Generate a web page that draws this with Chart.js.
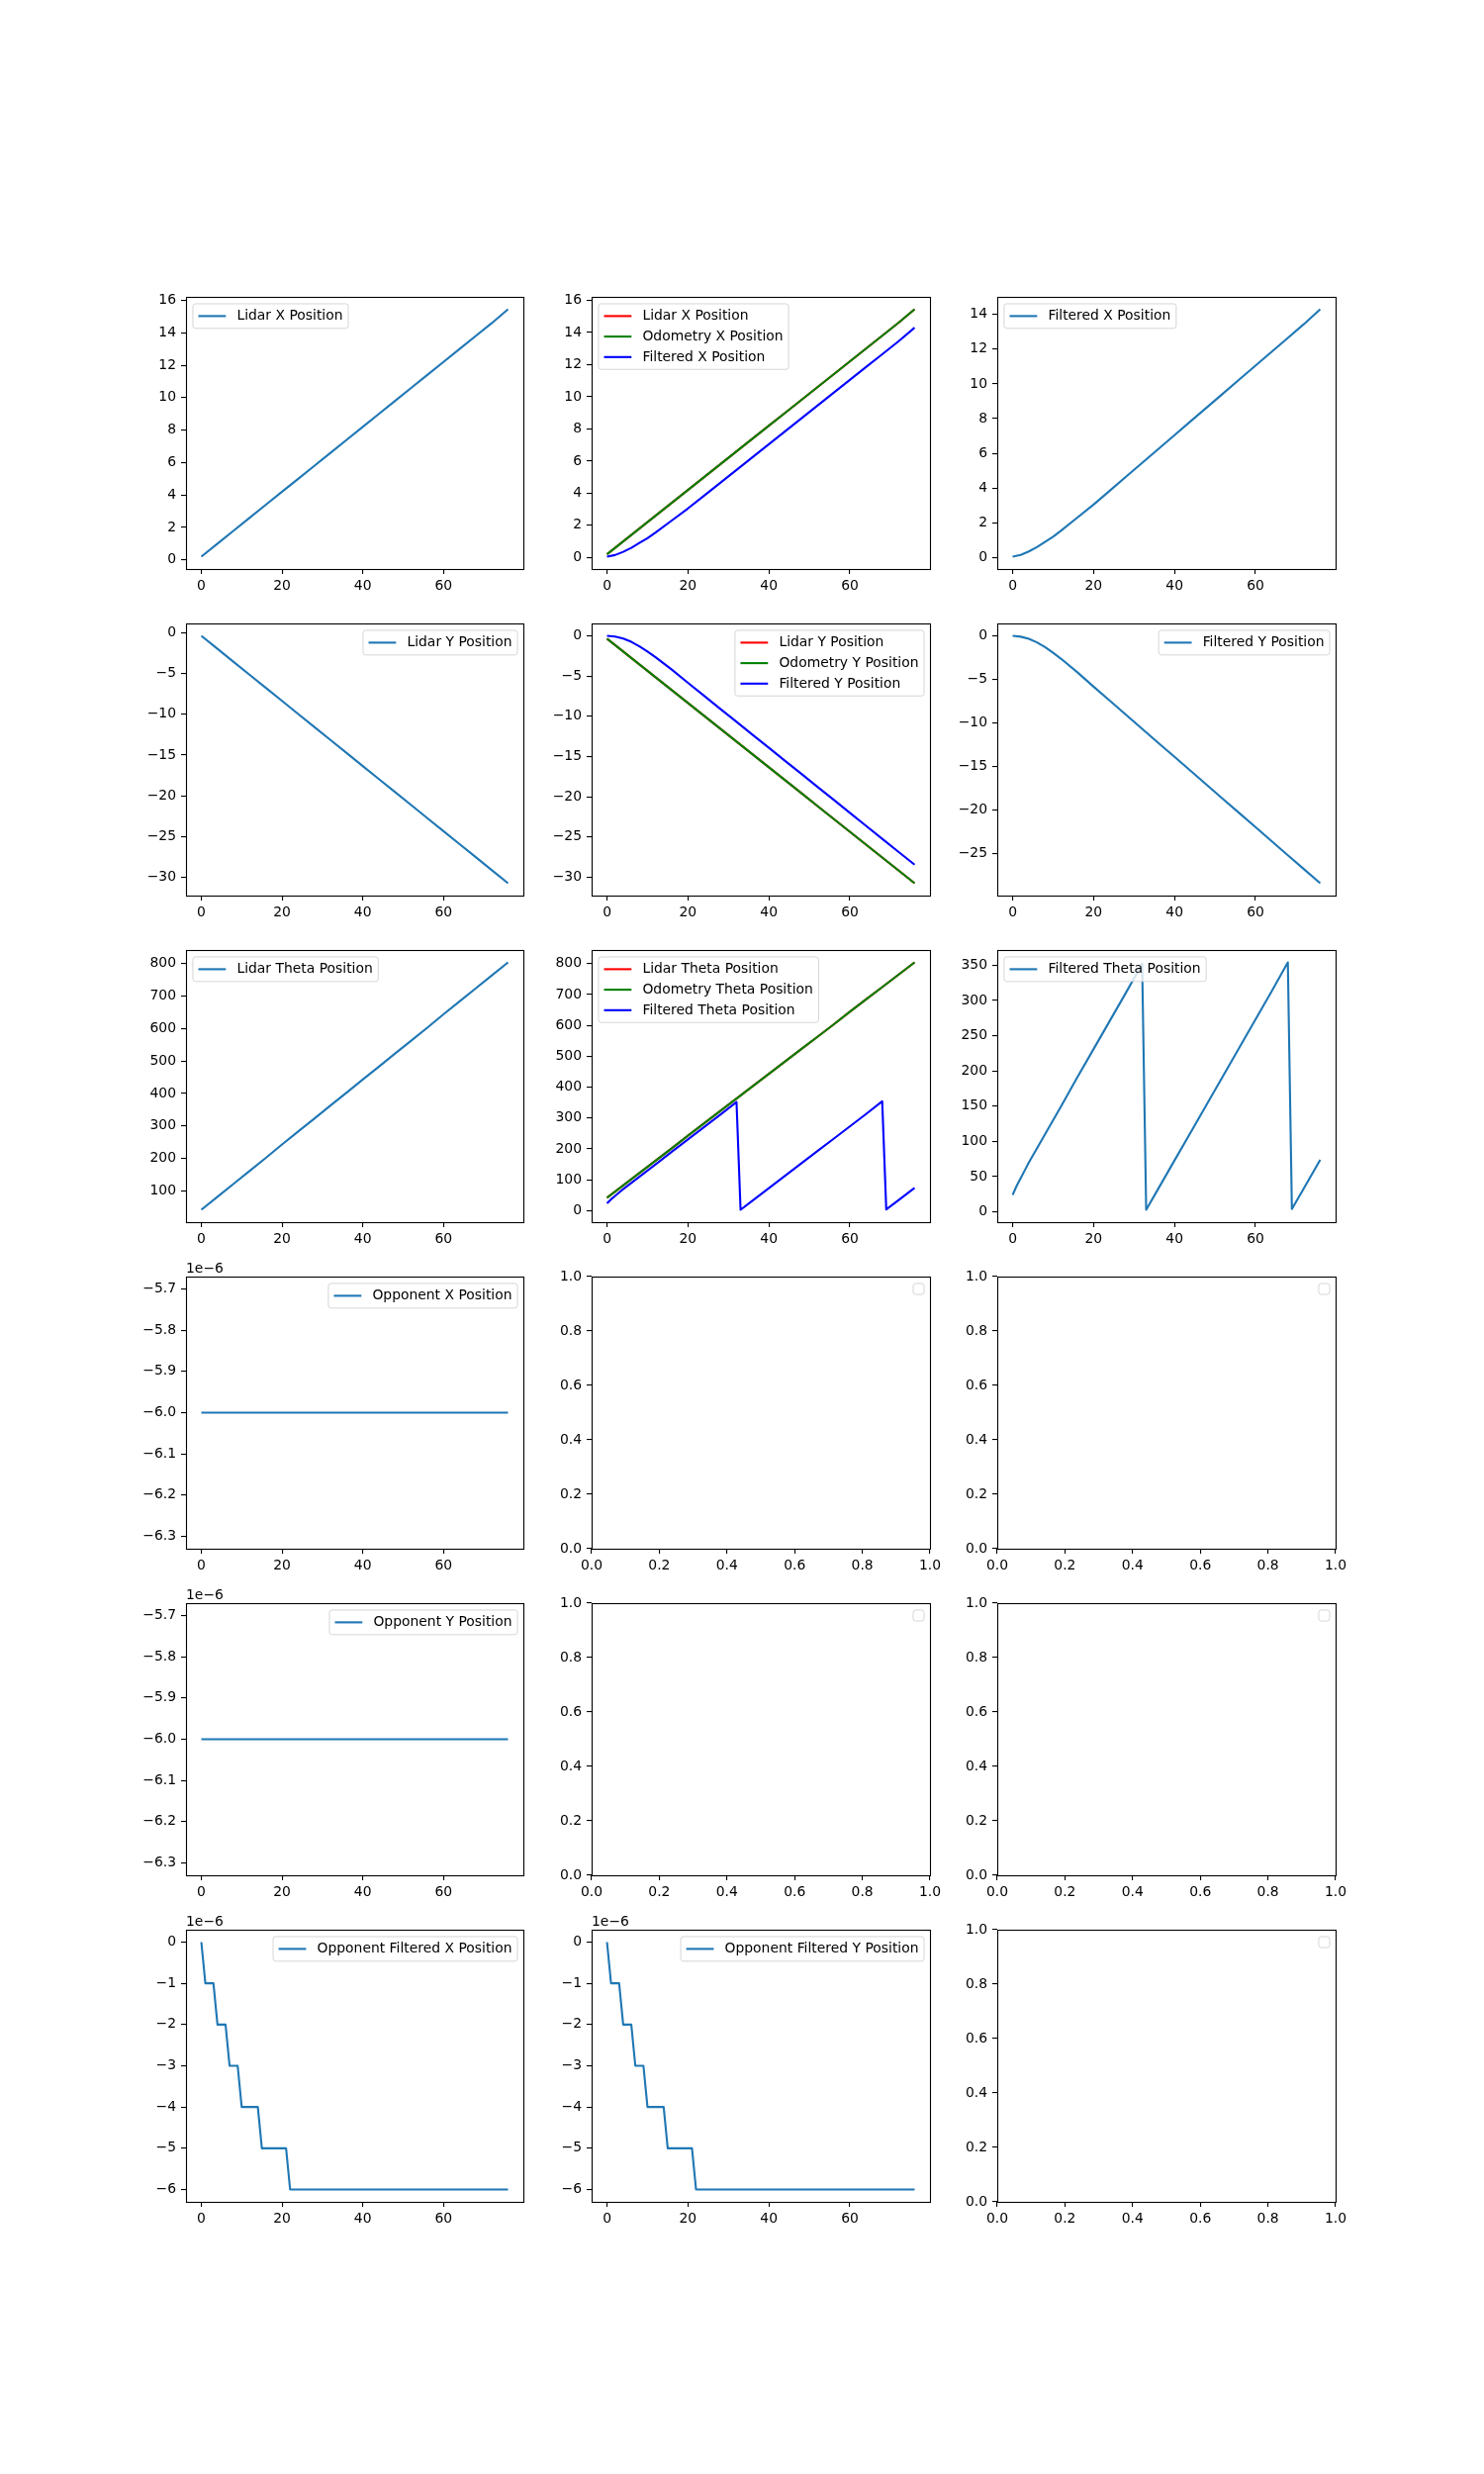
<!DOCTYPE html>
<html><head><meta charset="utf-8">
<script src="https://cdn.jsdelivr.net/npm/chart.js@4.4.1/dist/chart.umd.min.js"></script>
<style>
html,body{margin:0;padding:0;background:#fff;}
body{width:1500px;height:2500px;position:relative;overflow:hidden;}
canvas{position:absolute;}
</style></head><body>
<script>
// ---------------- DATA ----------------
const xLin = [0,4,8,12,16,20,24,28,32,36,40,44,48,52,56,60,64,68,72,76];
const lidarX = [0.2,1.0,1.8,2.6,3.4,4.2,5.0,5.8,6.6,7.4,8.2,9.0,9.8,10.6,11.4,12.2,13.0,13.8,14.6,15.45];
const odomX  = [0.2,1.0,1.8,2.6,3.4,4.2,5.0,5.8,6.6,7.4,8.2,9.0,9.8,10.6,11.4,12.2,13.0,13.8,14.6,15.45];
const lidarY = [-0.35,-1.95,-3.55,-5.15,-6.75,-8.35,-9.95,-11.55,-13.15,-14.75,-16.35,-17.95,-19.55,-21.15,-22.75,-24.35,-25.95,-27.55,-29.15,-30.75];
const odomY  = [-0.35,-1.95,-3.55,-5.15,-6.75,-8.35,-9.95,-11.55,-13.15,-14.75,-16.35,-17.95,-19.55,-21.15,-22.75,-24.35,-25.95,-27.55,-29.15,-30.75];
const lidarTheta = [42,82,122,162,202,243,283,323,363,403,443,483,523,563,603,644,684,724,764,804];
const odomTheta  = [42,82,122,162,202,243,283,323,363,403,443,483,523,563,603,644,684,724,764,804];

const xFilt = [0,2,4,6,8,10,12,16,20,24,28,32,36,40,44,48,52,56,60,64,68,72,76];
const filtX = [0.05,0.15,0.35,0.6,0.9,1.2,1.55,2.3,3.05,3.85,4.65,5.45,6.25,7.05,7.85,8.65,9.45,10.25,11.05,11.85,12.65,13.45,14.3];
const filtY = [0,-0.1,-0.35,-0.75,-1.3,-1.95,-2.65,-4.2,-5.85,-7.46,-9.08,-10.69,-12.31,-13.92,-15.54,-17.15,-18.77,-20.38,-22.0,-23.61,-25.23,-26.84,-28.45];

const xTheta = [0,1,2,3,4,6,8,12,16,20,24,28,32,33,36,40,44,48,52,56,60,64,68,69,72,76];
const filtTheta = [24,37,48,59,70,90,110,150,191,231,271,311,352,3,33,73,113,153,193,233,273,313,354,4,34,74];

const xOpp = [0,76];
const oppX = [-6e-6,-6e-6];
const oppY = [-6e-6,-6e-6];

const xOppF = [0,1,3,4,6,7,9,10,14,15,21,22,76];
const oppFiltX = [0,-1e-6,-1e-6,-2e-6,-2e-6,-3e-6,-3e-6,-4e-6,-4e-6,-5e-6,-5e-6,-6e-6,-6e-6];
const oppFiltY = [0,-1e-6,-1e-6,-2e-6,-2e-6,-3e-6,-3e-6,-4e-6,-4e-6,-5e-6,-5e-6,-6e-6,-6e-6];

// tick label values
const xTickVals = [0,20,40,60];
const ticksX16 = [0,2,4,6,8,10,12,14,16];
const ticksX14 = [0,2,4,6,8,10,12,14];
const ticksY30 = [-30,-25,-20,-15,-10,-5,0];
const ticksY25 = [-25,-20,-15,-10,-5,0];
const ticksTh100 = [100,200,300,400,500,600,700,800];
const ticksTh0 = [0,100,200,300,400,500,600,700,800];
const ticksTh350 = [0,50,100,150,200,250,300,350];
const ticksOpp = [-6.3e-6,-6.2e-6,-6.1e-6,-6.0e-6,-5.9e-6,-5.8e-6,-5.7e-6];
const ticksOppF = [-6e-6,-5e-6,-4e-6,-3e-6,-2e-6,-1e-6,0];
const ticksUnit = [0,0.2,0.4,0.6,0.8,1.0];
const offsetLabel = '1e\u22126';

// ---------------- LAYOUT / STYLE ----------------
const C0='#1f77b4', RED='#ff0000', GREEN='#008000', BLUE='#0000ff';
const colLeft=[188,598,1008], colW=[341,342,342];
const rowTop=[300,630,960,1290,1620,1950], AXH=275;
const PADL=80, PADT=30, PADR=30, PADB=30;
const FS=13.9, FONT='DejaVu Sans';

const panels = [
 {r:0,c:0,legend:'ul',yTicks:ticksX16,series:[{label:'Lidar X Position',x:xLin,y:lidarX,color:C0}]},
 {r:0,c:1,legend:'ul',yTicks:ticksX16,series:[{label:'Lidar X Position',x:xLin,y:lidarX,color:RED},{label:'Odometry X Position',x:xLin,y:odomX,color:GREEN},{label:'Filtered X Position',x:xFilt,y:filtX,color:BLUE}]},
 {r:0,c:2,legend:'ul',yTicks:ticksX14,series:[{label:'Filtered X Position',x:xFilt,y:filtX,color:C0}]},
 {r:1,c:0,legend:'ur',yTicks:ticksY30,series:[{label:'Lidar Y Position',x:xLin,y:lidarY,color:C0}]},
 {r:1,c:1,legend:'ur',yTicks:ticksY30,series:[{label:'Lidar Y Position',x:xLin,y:lidarY,color:RED},{label:'Odometry Y Position',x:xLin,y:odomY,color:GREEN},{label:'Filtered Y Position',x:xFilt,y:filtY,color:BLUE}]},
 {r:1,c:2,legend:'ur',yTicks:ticksY25,series:[{label:'Filtered Y Position',x:xFilt,y:filtY,color:C0}]},
 {r:2,c:0,legend:'ul',yTicks:ticksTh100,series:[{label:'Lidar Theta Position',x:xLin,y:lidarTheta,color:C0}]},
 {r:2,c:1,legend:'ul',yTicks:ticksTh0,series:[{label:'Lidar Theta Position',x:xLin,y:lidarTheta,color:RED},{label:'Odometry Theta Position',x:xLin,y:odomTheta,color:GREEN},{label:'Filtered Theta Position',x:xTheta,y:filtTheta,color:BLUE}]},
 {r:2,c:2,legend:'ul',yTicks:ticksTh350,series:[{label:'Filtered Theta Position',x:xTheta,y:filtTheta,color:C0}]},
 {r:3,c:0,legend:'ur',yTicks:ticksOpp,yDec:1,yScale:1e-6,offset:offsetLabel,series:[{label:'Opponent X Position',x:xOpp,y:oppX,color:C0}]},
 {r:3,c:1,legend:'ur',empty:true,series:[]},
 {r:3,c:2,legend:'ur',empty:true,series:[]},
 {r:4,c:0,legend:'ur',yTicks:ticksOpp,yDec:1,yScale:1e-6,offset:offsetLabel,series:[{label:'Opponent Y Position',x:xOpp,y:oppY,color:C0}]},
 {r:4,c:1,legend:'ur',empty:true,series:[]},
 {r:4,c:2,legend:'ur',empty:true,series:[]},
 {r:5,c:0,legend:'ur',yTicks:ticksOppF,yDec:0,yScale:1e-6,offset:offsetLabel,series:[{label:'Opponent Filtered X Position',x:xOppF,y:oppFiltX,color:C0}]},
 {r:5,c:1,legend:'ur',yTicks:ticksOppF,yDec:0,yScale:1e-6,offset:offsetLabel,series:[{label:'Opponent Filtered Y Position',x:xOppF,y:oppFiltY,color:C0}]},
 {r:5,c:2,legend:'ur',empty:true,series:[]}
];

function fmt(v,dec,scale){
  let s=(v/scale).toFixed(dec);
  if(parseFloat(s)===0) s=(0).toFixed(dec);
  return s.replace('-','\u2212');
}
function lims(arrs){
  let mn=Infinity,mx=-Infinity;
  arrs.forEach(a=>a.forEach(v=>{if(v<mn)mn=v;if(v>mx)mx=v;}));
  if(mx-mn===0){ mn-=0.05*Math.abs(mn); mx+=0.05*Math.abs(mx); }
  const m=0.05*(mx-mn);
  return [mn-m,mx+m];
}

const framePlugin={id:'frame',afterDatasetsDraw(chart){
  const ctx=chart.ctx,ca=chart.chartArea;
  ctx.save();ctx.strokeStyle='#000';ctx.lineWidth=1.1;
  ctx.strokeRect(ca.left+0.5,ca.top+0.5,ca.right-ca.left,ca.bottom-ca.top);
  ctx.restore();
}};
const legendPlugin={id:'mplLegend',afterDatasetsDraw(chart,args,opts){
  const ctx=chart.ctx,ca=chart.chartArea,ds=chart.data.datasets;
  ctx.save();
  ctx.font=FS+'px "'+FONT+'"';
  const pad=0.4*FS,hl=2*FS,htp=0.8*FS,rowH=0.99*FS,ls=0.5*FS,axpad=0.5*FS;
  let tw=0;ds.forEach(d=>{tw=Math.max(tw,ctx.measureText(d.label).width);});
  let bw,bh;
  if(ds.length===0){bw=2*pad;bh=2*pad;}
  else{bw=pad+hl+htp+tw+pad;bh=2*pad+ds.length*rowH+(ds.length-1)*ls;}
  const bx=opts.loc==='ur'?ca.right-axpad-bw+1:ca.left+axpad;
  const by=ca.top+axpad;
  const rr=0.2*FS;
  ctx.beginPath();
  ctx.moveTo(bx+rr,by);ctx.lineTo(bx+bw-rr,by);ctx.arcTo(bx+bw,by,bx+bw,by+rr,rr);
  ctx.lineTo(bx+bw,by+bh-rr);ctx.arcTo(bx+bw,by+bh,bx+bw-rr,by+bh,rr);
  ctx.lineTo(bx+rr,by+bh);ctx.arcTo(bx,by+bh,bx,by+bh-rr,rr);
  ctx.lineTo(bx,by+rr);ctx.arcTo(bx,by,bx+rr,by,rr);ctx.closePath();
  ctx.fillStyle='rgba(255,255,255,0.8)';ctx.fill();
  ctx.strokeStyle='rgba(204,204,204,0.8)';ctx.lineWidth=1;ctx.stroke();
  ds.forEach((d,i)=>{
    const cy=by+pad+i*(rowH+ls)+rowH/2;
    ctx.beginPath();ctx.strokeStyle=d.borderColor;ctx.lineWidth=2.1;
    ctx.moveTo(bx+pad,cy);ctx.lineTo(bx+pad+hl,cy);ctx.stroke();
    ctx.fillStyle='#000';ctx.textBaseline='middle';ctx.textAlign='left';
    ctx.fillText(d.label,bx+pad+hl+htp,cy+0.5);
  });
  ctx.restore();
}};
const offsetPlugin={id:'offsetText',afterDatasetsDraw(chart,args,opts){
  if(!opts.text) return;
  const ctx=chart.ctx,ca=chart.chartArea;
  ctx.save();ctx.font=FS+'px "'+FONT+'"';ctx.fillStyle='#000';
  ctx.textAlign='left';ctx.textBaseline='alphabetic';
  ctx.fillText(opts.text,ca.left,ca.top-4.5);
  ctx.restore();
}};

function axisOpts(min,max,ticks,dec,scale,isX){
  return {
    type:'linear',min:min,max:max,bounds:'data',
    afterBuildTicks:(a)=>{a.ticks=ticks.map(v=>({value:v}));},
    afterFit:(s)=>{ if(isX) s.height=PADB; else s.width=PADL; },
    ticks:{autoSkip:false,maxRotation:0,minRotation:0,padding:isX?4:5,color:'#000',
      font:{family:FONT,size:FS},callback:(v)=>fmt(v,dec,scale)},
    grid:{display:true,drawOnChartArea:false,drawTicks:true,tickLength:5,tickColor:'#000',tickWidth:1.1,lineWidth:1.1,color:'#000'},
    border:{display:false}
  };
}

panels.forEach(p=>{
  const L=colLeft[p.c],T=rowTop[p.r],W=colW[p.c];
  const cv=document.createElement('canvas');
  cv.width=W+PADL+PADR;cv.height=AXH+PADT+PADB;
  cv.style.left=(L-PADL)+'px';cv.style.top=(T-PADT)+'px';
  cv.style.width=cv.width+'px';cv.style.height=cv.height+'px';
  document.body.appendChild(cv);
  let xl,yl,xt,yt,xdec,ydec,ysc;
  if(p.empty){xl=[0,1];yl=[0,1];xt=ticksUnit;yt=ticksUnit;xdec=1;ydec=1;ysc=1;}
  else{
    xl=lims(p.series.map(s=>s.x));yl=lims(p.series.map(s=>s.y));
    xt=xTickVals;yt=p.yTicks;xdec=0;ydec=p.yDec||0;ysc=p.yScale||1;
  }
  const n=p.series.length;
  new Chart(cv,{
    type:'line',
    data:{datasets:p.series.map((s,i)=>({
      label:s.label,
      data:s.x.map((x,j)=>({x:x,y:s.y[j]})),
      borderColor:s.color,backgroundColor:s.color,borderWidth:2.1,
      pointRadius:0,pointHoverRadius:0,fill:false,tension:0,order:n-i,
      borderJoinStyle:'round',borderCapStyle:'butt'
    }))},
    options:{
      responsive:false,animation:false,devicePixelRatio:1,
      events:[],
      layout:{padding:{left:0,top:PADT,right:PADR,bottom:0}},
      plugins:{legend:{display:false},tooltip:{enabled:false},
        mplLegend:{loc:p.legend},offsetText:{text:p.offset||''}},
      scales:{
        x:axisOpts(xl[0],xl[1],xt,xdec,1,true),
        y:axisOpts(yl[0],yl[1],yt,ydec,ysc,false)
      }
    },
    plugins:[framePlugin,legendPlugin,offsetPlugin]
  });
});
</script>
</body></html>
